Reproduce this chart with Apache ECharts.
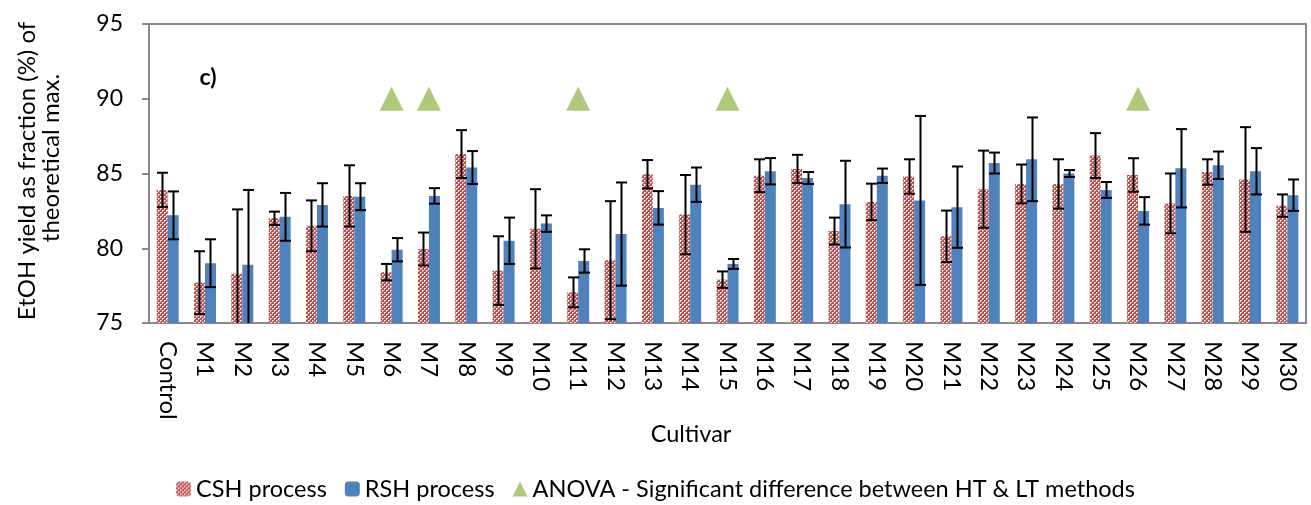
<!DOCTYPE html>
<html>
<head>
<meta charset="utf-8">
<script src="https://cdn.jsdelivr.net/npm/echarts@6/dist/echarts.min.js"></script>
<style>
html,body{margin:0;padding:0;background:#fff;}
#chart{width:1311px;height:505px;}
</style>
</head>
<body>
<div id="chart"></div>
<script>
var categories = ['Control','M1','M2','M3','M4','M5','M6','M7','M8','M9','M10','M11','M12','M13','M14','M15','M16','M17','M18','M19','M20','M21','M22','M23','M24','M25','M26','M27','M28','M29','M30'];
var cshValues = [83.9,77.7,78.3,82.0,81.5,83.5,78.4,79.95,86.3,78.5,81.3,77.05,79.2,84.95,82.25,77.9,84.85,85.3,81.15,83.1,84.8,80.8,83.95,84.3,84.3,86.2,84.9,83.0,85.1,84.6,82.85];
var cshErrors = [1.15,2.1,4.3,0.45,1.7,2.05,0.55,1.1,1.6,2.3,2.65,1.0,3.95,0.95,2.65,0.55,1.1,0.95,0.9,1.22,1.15,1.72,2.58,1.3,1.65,1.5,1.12,2.0,0.85,3.5,0.75];
var rshValues = [82.2,79.0,78.9,82.1,82.9,83.45,79.9,83.5,85.4,80.5,81.65,79.15,80.95,82.7,84.25,78.95,85.15,84.7,82.95,84.85,83.2,82.75,85.7,85.95,85.0,83.9,82.5,85.35,85.55,85.15,83.55];
var rshErrors = [1.6,1.6,5.0,1.6,1.45,0.9,0.78,0.52,1.1,1.55,0.55,0.78,3.45,1.12,1.15,0.33,0.88,0.4,2.9,0.48,5.65,2.72,0.7,2.8,0.23,0.53,0.92,2.62,0.92,1.55,1.05];
var anovaCategories = ['M6','M7','M11','M15','M26'];
var anovaLevel = 90;
var yTicks = {min:75, max:95, interval:5};

var FONT = 'Lato';

function makePattern(){
  var c = document.createElement('canvas');
  c.width = 4; c.height = 4;
  var ctx = c.getContext('2d');
  ctx.fillStyle = '#c0504d';
  ctx.fillRect(0,0,4,4);
  ctx.fillStyle = '#ffffff';
  ctx.fillRect(0,0,1,1);
  ctx.fillRect(2,2,1,1);
  ctx.fillStyle = '#f0c8c6';
  ctx.fillRect(1,0,1,1);
  ctx.fillRect(0,1,1,1);
  ctx.fillRect(3,2,1,1);
  ctx.fillRect(2,3,1,1);
  return {image:c, repeat:'repeat'};
}
var pattern = makePattern();

var BAR_W = 11;
function errRender(offset){
  return function(params, api){
    var x = api.value(0), m = api.value(1), sd = api.value(2);
    var hi = api.coord([x, m + sd]);
    var lo = api.coord([x, m - sd]);
    var cx = Math.round(hi[0] + offset) + 0.5;
    var cap = 5.5;
    var st = {stroke:'#000', lineWidth:2};
    return {type:'group', children:[
      {type:'line', shape:{x1:cx, y1:hi[1], x2:cx, y2:lo[1]}, style:st},
      {type:'line', shape:{x1:cx-cap, y1:hi[1], x2:cx+cap, y2:hi[1]}, style:st},
      {type:'line', shape:{x1:cx-cap, y1:lo[1], x2:cx+cap, y2:lo[1]}, style:st}
    ]};
  };
}
function errData(vals, errs){
  return vals.map(function(v,i){ return [i, v, errs[i]]; });
}

var chart = echarts.init(document.getElementById('chart'), null, {renderer:'canvas'});
var option = {
  animation:false,
  textStyle:{fontFamily:FONT},
  grid:{left:149, right:5, top:24, bottom:182, containLabel:false, show:true, borderColor:'#898989', borderWidth:2, backgroundColor:'transparent'},
  legend:{
    data:['CSH process','RSH process','ANOVA - Significant difference between HT & LT methods'],
    top:472, left:'center',
    itemWidth:15, itemHeight:15, itemGap:18,
    textStyle:{fontFamily:FONT, fontSize:23.5, color:'#000'}
  },
  xAxis:{
    type:'category', data:categories,
    axisLine:{lineStyle:{color:'#898989', width:2}},
    axisTick:{show:false},
    axisLabel:{rotate:-90, margin:18, fontFamily:FONT, fontSize:24, color:'#000', interval:0},
    splitLine:{show:false}
  },
  yAxis:{
    type:'value', min:yTicks.min, max:yTicks.max, interval:yTicks.interval,
    axisLine:{show:true, lineStyle:{color:'#898989', width:2}},
    axisTick:{show:true, length:7, lineStyle:{color:'#898989', width:2}},
    axisLabel:{margin:26, fontFamily:FONT, fontSize:23, color:'#000'},
    splitLine:{show:false}
  },
  graphic:[
    {type:'text', x:691, y:434, style:{text:'Cultivar', font:'23.5px '+FONT, fill:'#000', textAlign:'center', textVerticalAlign:'middle'}},
    {type:'text', x:27, y:171, rotation:Math.PI/2, style:{text:'EtOH yield as fraction (%) of', font:'24px '+FONT, fill:'#000', textAlign:'center', textVerticalAlign:'middle'}},
    {type:'text', x:51, y:158, rotation:Math.PI/2, style:{text:'theoretical max.', font:'24px '+FONT, fill:'#000', textAlign:'center', textVerticalAlign:'middle'}},
    {type:'text', x:208, y:78, style:{text:'c)', font:'bold 23px '+FONT, fill:'#000', textAlign:'center', textVerticalAlign:'middle'}}
  ],
  series:[
    {name:'CSH process', type:'bar', data:cshValues, barWidth:BAR_W, barGap:'0%', itemStyle:{color:pattern}},
    {name:'RSH process', type:'bar', data:rshValues, barWidth:BAR_W, barGap:'0%', itemStyle:{color:'#4f81bd'}},
    {name:'errCSH', type:'custom', renderItem:errRender(-BAR_W/2), data:errData(cshValues, cshErrors), encode:{x:0, y:1}, clip:true, z:5},
    {name:'errRSH', type:'custom', renderItem:errRender(BAR_W/2), data:errData(rshValues, rshErrors), encode:{x:0, y:1}, clip:true, z:5},
    {name:'ANOVA - Significant difference between HT & LT methods', type:'scatter', symbol:'triangle', symbolSize:[24,24],
     itemStyle:{color:'#9bbb59'}, data:anovaCategories.map(function(c){ return [c, anovaLevel]; }), z:6}
  ]
};
chart.setOption(option);
</script>
</body>
</html>
